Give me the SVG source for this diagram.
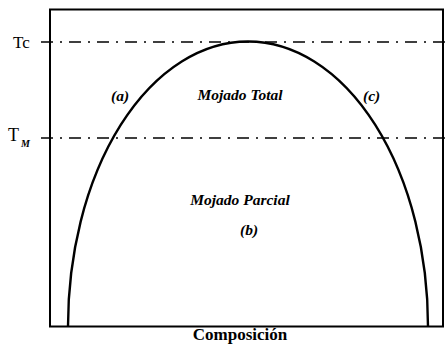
<svg xmlns="http://www.w3.org/2000/svg" width="446" height="355" viewBox="0 0 446 355">
<style>
.frame{fill:none;stroke:#000;stroke-width:2}
.dd{fill:none;stroke:#000;stroke-width:1.6;stroke-dasharray:12 7 2 7}
.curve{fill:none;stroke:#000;stroke-width:2.4}
.lab{font-family:"Liberation Serif","Times New Roman",serif;font-style:italic;font-weight:bold;font-size:15.5px;fill:#000}
.ax{font-family:"Liberation Serif","Times New Roman",serif;fill:#000}
</style>
<rect width="446" height="355" fill="#fff"/>
<g id="frame">
<rect class="frame" x="50" y="9.5" width="393" height="317"/>
</g>
<g id="connectors">
<line class="dd" x1="41" y1="42" x2="446" y2="42"/>
<line class="dd" x1="41" y1="138" x2="446" y2="138"/>
<path class="curve" d="M68 326.5 A180 285 0 0 1 428 326.5"/>
</g>
<g id="axis-labels">
<text class="ax" x="13" y="48" font-size="17">Tc</text>
<text class="ax" x="8" y="141" font-size="18">T</text>
<text class="ax" x="21" y="147" font-size="10" font-style="italic" font-weight="bold">M</text>
<text class="ax" x="240" y="340" font-size="17" font-weight="bold" text-anchor="middle">Composición</text>
</g>
<g id="region-total">
<text class="lab" x="240" y="100" text-anchor="middle">Mojado Total</text>
</g>
<g id="region-parcial">
<text class="lab" x="240" y="205" text-anchor="middle">Mojado Parcial</text>
</g>
<g id="label-a"><text class="lab" x="111" y="101">(a)</text></g>
<g id="label-b"><text class="lab" x="240" y="235">(b)</text></g>
<g id="label-c"><text class="lab" x="363" y="101">(c)</text></g>
</svg>
